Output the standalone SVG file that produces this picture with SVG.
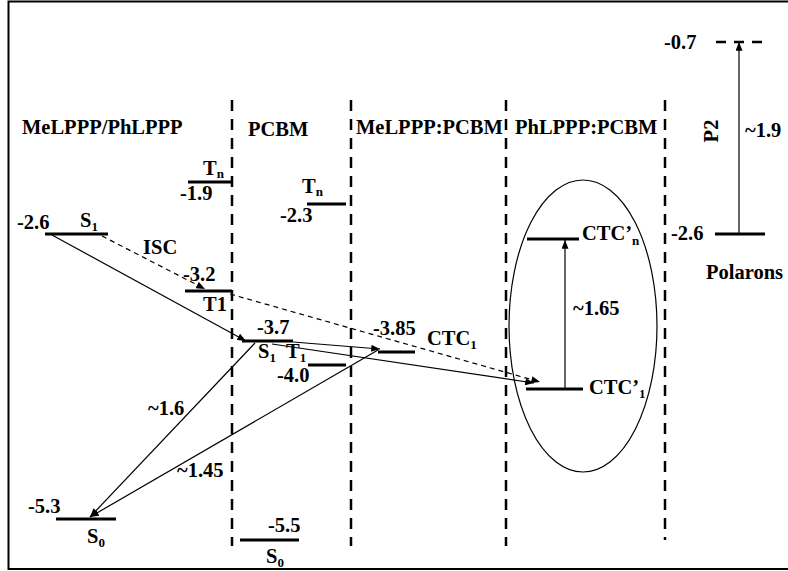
<svg xmlns="http://www.w3.org/2000/svg" width="788" height="571" viewBox="0 0 788 571" font-family="'Liberation Serif', serif">
<defs>
<marker id="ah" viewBox="0 0 10 8" refX="10" refY="4" markerWidth="9" markerHeight="7" markerUnits="userSpaceOnUse" orient="auto">
<path d="M0,0 L10,4 L0,8 z" fill="#000"/>
</marker>
<style>
text{font-family:'Liberation Serif',serif;font-weight:bold;font-size:20.5px;fill:#000}
.sub{font-size:13px}
.lvl{stroke:#000;stroke-width:3;fill:none}
.sep{stroke:#000;stroke-width:2.5;stroke-dasharray:11 8;fill:none}
.ar{stroke:#000;stroke-width:1.2;fill:none;marker-end:url(#ah)}
.da{stroke:#000;stroke-width:1.2;fill:none;stroke-dasharray:5 4;marker-end:url(#ah)}
</style>
</defs>
<rect width="788" height="571" fill="#fff"/>
<path d="M790,1.5 H8.5 V569 H790" fill="none" stroke="#000" stroke-width="2"/>

<g id="separators">
<line class="sep" x1="232" y1="100" x2="232" y2="546"/>
<line class="sep" x1="351" y1="100" x2="351" y2="546"/>
<line class="sep" x1="506" y1="100" x2="506" y2="546"/>
<line class="sep" x1="665" y1="100" x2="665" y2="540"/>
</g>

<g id="headers">
<text x="22" y="134">MeLPPP/PhLPPP</text>
<text x="248" y="136">PCBM</text>
<text x="356" y="134">MeLPPP:PCBM</text>
<text x="515" y="134">PhLPPP:PCBM</text>
</g>

<g id="ellipse">
<ellipse cx="583" cy="326" rx="74" ry="146" fill="none" stroke="#000" stroke-width="1.2"/>
</g>

<g id="connectors">
<line class="ar" x1="52" y1="235" x2="246" y2="341"/>
<line class="da" x1="102" y1="236" x2="205" y2="289"/>
<line class="da" x1="230" y1="294" x2="540" y2="382"/>
<line class="ar" x1="293" y1="342" x2="380" y2="349"/>
<line class="ar" x1="272" y1="344" x2="534" y2="383"/>
<line class="ar" x1="255" y1="343" x2="90" y2="517"/>
<line class="ar" x1="378" y1="350" x2="90" y2="517"/>
<line class="ar" x1="565" y1="389" x2="565" y2="240"/>
<line class="ar" x1="739" y1="234" x2="739" y2="42"/>
</g>

<g id="meLPPP-S1">
<line class="lvl" x1="45" y1="234" x2="108" y2="234"/>
<text x="17" y="229">-2.6</text>
<text x="80" y="227">S<tspan class="sub" dy="4">1</tspan></text>
</g>
<g id="isc-label"><text x="143" y="254">ISC</text></g>
<g id="meLPPP-Tn">
<line class="lvl" x1="188" y1="182" x2="232" y2="182"/>
<text x="203" y="175">T<tspan class="sub" dy="3">n</tspan></text>
<text x="180" y="200">-1.9</text>
</g>
<g id="meLPPP-T1">
<line class="lvl" x1="185" y1="291" x2="232" y2="291"/>
<text x="183" y="281">-3.2</text>
<text x="203" y="311">T1</text>
</g>
<g id="meLPPP-S0">
<line class="lvl" x1="56" y1="519" x2="116" y2="519"/>
<text x="28" y="513">-5.3</text>
<text x="87" y="543">S<tspan class="sub" dy="4">0</tspan></text>
</g>

<g id="pcbm-Tn">
<line class="lvl" x1="307" y1="204" x2="346" y2="204"/>
<text x="302" y="193">T<tspan class="sub" dy="3">n</tspan></text>
<text x="280" y="222">-2.3</text>
</g>
<g id="pcbm-S1">
<line class="lvl" x1="242" y1="341" x2="293" y2="341"/>
<text x="257" y="334">-3.7</text>
<text x="258" y="358">S<tspan class="sub" dy="4">1</tspan></text>
</g>
<g id="pcbm-T1">
<line class="lvl" x1="308" y1="365" x2="346" y2="365"/>
<text x="286" y="358">T<tspan class="sub" dy="4">1</tspan></text>
<text x="277" y="382">-4.0</text>
</g>
<g id="pcbm-S0">
<line class="lvl" x1="240" y1="540" x2="299" y2="540"/>
<text x="268" y="532">-5.5</text>
<text x="266" y="563">S<tspan class="sub" dy="4">0</tspan></text>
</g>

<g id="ctc1">
<line class="lvl" x1="378" y1="352" x2="415" y2="352"/>
<text x="373" y="335">-3.85</text>
<text x="427" y="345">CTC<tspan class="sub" dy="4">1</tspan></text>
</g>
<g id="ctcp1">
<line class="lvl" x1="526" y1="389" x2="583" y2="389"/>
<text x="589" y="394">CTC’<tspan class="sub" dy="4">1</tspan></text>
</g>
<g id="ctcpn">
<line class="lvl" x1="527" y1="239" x2="579" y2="239"/>
<text x="582" y="240">CTC’<tspan class="sub" dy="5">n</tspan></text>
</g>

<g id="labels">
<text x="148" y="415">~1.6</text>
<text x="177" y="477">~1.45</text>
<text x="573" y="315">~1.65</text>
</g>

<g id="polarons">
<line class="lvl" x1="715" y1="234" x2="765" y2="234"/>
<text x="671" y="240">-2.6</text>
<text x="706" y="279">Polarons</text>
<line x1="716" y1="42" x2="762" y2="42" stroke="#000" stroke-width="2.5" stroke-dasharray="10 8"/>
<text x="664" y="49">-0.7</text>
<text x="745" y="137">~1.9</text>
<text transform="translate(718,131) rotate(-90)" text-anchor="middle">P2</text>
</g>
</svg>
